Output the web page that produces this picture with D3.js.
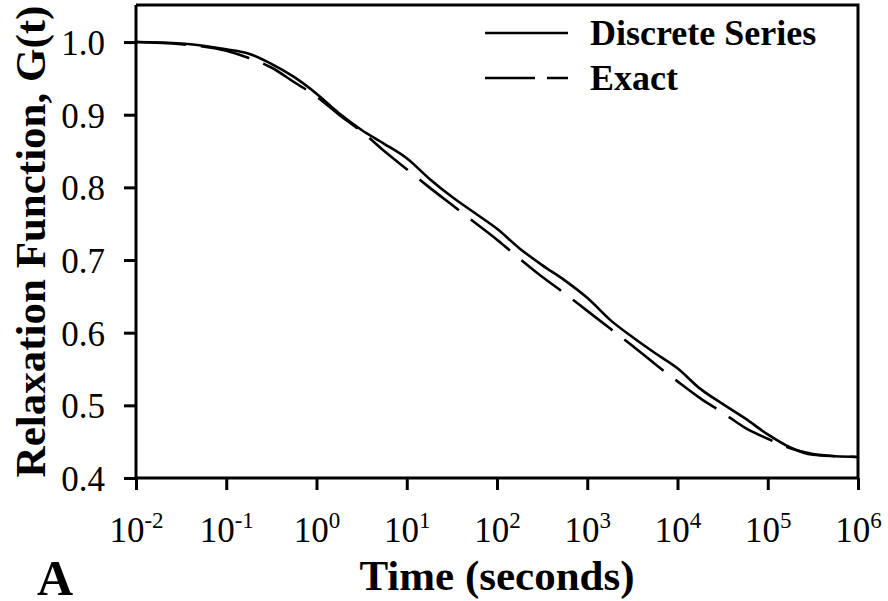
<!DOCTYPE html>
<html>
<head>
<meta charset="utf-8">
<script src="https://cdn.jsdelivr.net/npm/d3@7"></script>
<style>
  body { margin: 0; background: #fff; }
  text { font-family: "Liberation Serif", "Times New Roman", serif; fill: #000; }
</style>
</head>
<body>
<script>
var logTime = [-2, -1.5, -1, -0.75, -0.5, -0.25, 0, 0.25, 0.5, 0.75, 1, 1.25, 1.5, 1.75,
	2, 2.25, 2.5, 2.75, 3, 3.25, 3.5, 3.75, 4, 4.25, 4.5, 4.75, 5, 5.25, 5.5, 5.75, 6];

// Discrete series G(t)
var discreteG = [1.000, 0.998, 0.990, 0.984, 0.970, 0.952, 0.929, 0.902, 0.879, 0.860, 0.840, 0.812,
	0.787, 0.765, 0.743, 0.716, 0.693, 0.672, 0.648, 0.618, 0.594, 0.572, 0.551, 0.523, 0.502,
	0.482, 0.460, 0.442, 0.432, 0.430, 0.429];

// Exact G(t)
var exactG = [1.000, 0.997, 0.988, 0.978, 0.965, 0.945, 0.925, 0.900, 0.877, 0.850, 0.825, 0.800,
	0.776, 0.752, 0.728, 0.702, 0.677, 0.654, 0.630, 0.606, 0.582, 0.557, 0.533, 0.510, 0.490,
	0.469, 0.454, 0.441, 0.433, 0.430, 0.429];

var xTickExp = [-2, -1, 0, 1, 2, 3, 4, 5, 6];
var yTicks = [0.4, 0.5, 0.6, 0.7, 0.8, 0.9, 1.0];

var seriesNames = ["Discrete Series", "Exact"];

var width = 888, height = 601;
var plotLeft = 136, plotRight = 858, plotTop = 5, plotBottom = 478;

var svg = d3.select("body").append("svg")
	.attr("width", width)
	.attr("height", height);

var x = d3.scaleLog()
	.domain([1e-2, 1e6])
	.range([plotLeft, plotRight]);

var y = d3.scaleLinear()
	.domain([0.4, 1.051])
	.range([plotBottom, plotTop]);

// curves
var line = d3.line()
	.x(function(d) { return x(Math.pow(10, d[0])); })
	.y(function(d) { return y(d[1]); })
	.curve(d3.curveMonotoneX);

svg.append("path")
	.datum(logTime.map(function(t, i) { return [t, exactG[i]]; }))
	.attr("d", line)
	.attr("fill", "none")
	.attr("stroke", "#000")
	.attr("stroke-width", 2.6)
	.attr("stroke-dasharray", "50,15");

svg.append("path")
	.datum(logTime.map(function(t, i) { return [t, discreteG[i]]; }))
	.attr("d", line)
	.attr("fill", "none")
	.attr("stroke", "#000")
	.attr("stroke-width", 2.6);

// frame top and right
svg.append("path")
	.attr("d", "M" + plotLeft + "," + plotTop + "H" + plotRight + "V" + plotBottom)
	.attr("fill", "none")
	.attr("stroke", "#000")
	.attr("stroke-width", 3);

// y axis
var yAxis = svg.append("g")
	.attr("transform", "translate(" + plotLeft + ",0)")
	.call(d3.axisLeft(y).tickValues(yTicks).tickFormat(d3.format(".1f")).tickSize(12).tickPadding(19));
yAxis.select(".domain").attr("stroke-width", 3).attr("d", "M0," + plotTop + "V" + plotBottom);
yAxis.selectAll(".tick line").attr("stroke-width", 3);
yAxis.selectAll(".tick text")
	.attr("font-size", 35)
	.attr("dy", "0.36em");

// x axis
var xAxis = svg.append("g")
	.attr("transform", "translate(0," + plotBottom + ")")
	.call(d3.axisBottom(x).tickValues(xTickExp.map(function(e) { return Math.pow(10, e); }))
		.tickFormat("").tickSize(12));
xAxis.select(".domain").attr("stroke-width", 3).attr("d", "M" + plotLeft + ",0H" + plotRight);
xAxis.selectAll(".tick line").attr("stroke-width", 3);

xAxis.selectAll(".tick").each(function(d, i) {
	var t = d3.select(this).select("text")
		.attr("y", 64)
		.attr("dy", null)
		.attr("text-anchor", "middle")
		.attr("font-size", 35);
	t.append("tspan").text("10");
	t.append("tspan")
		.attr("font-size", 23)
		.attr("dy", -14)
		.text(xTickExp[i]);
});

// axis titles
svg.append("text")
	.attr("x", (plotLeft + plotRight) / 2)
	.attr("y", 590)
	.attr("text-anchor", "middle")
	.attr("font-size", 43)
	.attr("font-weight", "bold")
	.text("Time (seconds)");

svg.append("text")
	.attr("transform", "translate(45," + (plotTop + plotBottom) / 2 + ") rotate(-90)")
	.attr("text-anchor", "middle")
	.attr("font-size", 43)
	.attr("font-weight", "bold")
	.text("Relaxation Function, G(t)");

svg.append("text")
	.attr("x", 37)
	.attr("y", 595)
	.attr("font-size", 50)
	.attr("font-weight", "bold")
	.text("A");

// legend
var legend = svg.append("g");
seriesNames.forEach(function(name, i) {
	var ly = 33 + i * 45;
	legend.append("line")
		.attr("x1", 485).attr("x2", 568)
		.attr("y1", ly).attr("y2", ly)
		.attr("stroke", "#000")
		.attr("stroke-width", 2.6)
		.attr("stroke-dasharray", i === 1 ? "50,12" : null);
	legend.append("text")
		.attr("x", 590)
		.attr("y", ly + 12)
		.attr("font-size", 36)
		.attr("font-weight", "bold")
		.text(name);
});
</script>
</body>
</html>
